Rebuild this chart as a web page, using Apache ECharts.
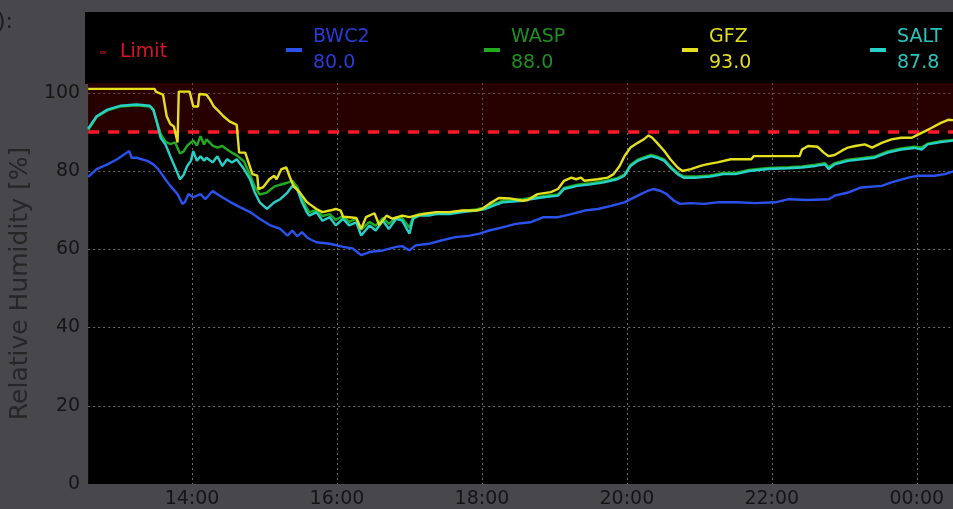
<!DOCTYPE html>
<html>
<head>
<meta charset="utf-8">
<script src="https://cdn.jsdelivr.net/npm/echarts@6/dist/echarts.min.js"></script>
<style>html,body{margin:0;padding:0;background:#48484c;}#c{width:953px;height:509px;}</style>
</head>
<body>
<div id="c"></div>
<script>
// ---- data ----
const xStart = '12:34';
const xEnd = '00:30';
const limitValue = 90;
const yMin = 0;
const yMax = 102.5;
const yInterval = 20;

const bwc2Times = ['12:34','12:41','12:50','12:58','13:04','13:08','13:10','13:14','13:23','13:28','13:32','13:37','13:42','13:48','13:52','13:54','13:57','14:01','14:07','14:11','14:17','14:23','14:32','14:40','14:48','14:56','15:05','15:13','15:19','15:23','15:27','15:31','15:35','15:37','15:43','15:54','16:05','16:13','16:20','16:27','16:38','16:49','16:54','17:00','17:05','17:16','17:27','17:38','17:50','17:58','18:06','18:17','18:28','18:40','18:51','19:03','19:14','19:25','19:36','19:47','19:58','20:09','20:17','20:22','20:28','20:33','20:39','20:44','20:53','21:04','21:15','21:31','21:46','22:03','22:14','22:30','22:47','22:52','23:03','23:14','23:31','23:39','23:53','00:01','00:15','00:23','00:31'];
const bwc2Values = [78.5,80.5,81.7,83,84.3,85.1,83.4,83.4,82.6,81.7,80.5,78.3,76.2,74.1,71.6,72,74.1,73.3,74.1,72.8,74.9,73.7,72,70.7,69.5,67.8,66.1,65.2,63.5,64.8,63.3,64.4,63.1,62.7,61.8,61.4,60.6,60.2,58.5,59.3,59.7,60.6,60.8,59.7,61,61.4,62.3,63.1,63.5,64,64.8,65.6,66.5,66.9,68.2,68.2,69,69.9,70.3,71.1,72,73.7,74.9,75.4,74.9,74.1,72.4,71.6,71.8,71.6,72,72,71.8,72,72.8,72.6,72.8,73.7,74.5,75.8,76.2,77.1,78.3,78.8,78.8,79.2,80];

const saltTimes = ['12:34','12:41','12:50','13:01','13:14','13:25','13:28','13:31','13:34','13:38','13:42','13:46','13:50','13:53','13:56','13:59','14:01','14:04','14:07','14:10','14:12','14:17','14:21','14:25','14:29','14:33','14:37','14:43','14:48','14:52','14:56','15:02','15:08','15:13','15:19','15:23','15:27','15:31','15:35','15:37','15:43','15:48','15:54','15:59','16:05','16:10','16:16','16:20','16:27','16:32','16:38','16:43','16:49','16:54','17:00','17:03','17:08','17:16','17:22','17:33','17:44','17:55','18:03','18:09','18:17','18:34','18:40','18:51','19:03','19:08','19:19','19:30','19:41','19:52','19:58','20:03','20:09','20:14','20:20','20:25','20:31','20:36','20:42','20:47','20:58','21:09','21:20','21:30','21:41','21:57','22:14','22:25','22:36','22:44','22:47','22:52','23:03','23:14','23:25','23:36','23:47','23:58','00:04','00:09','00:20','00:31'];
const saltValues = [90.8,94,95.7,96.7,97,96.7,95.7,92.3,88.5,86.8,83.8,80.9,77.9,79,81.3,82.6,85.1,82.6,83.8,82.6,83.4,82.2,83.8,81.3,83,82.2,83,80.5,77.9,74.5,72,70.3,72,72.8,74.5,76.2,75.4,72,69.5,68.6,69.5,67.3,68.2,66.1,67.8,66.1,66.9,63.5,66.1,64.8,67.3,65.2,67.8,67.3,64,67.8,68.6,68.6,69,69,69.5,69.9,70.3,71.1,72,72.4,72.8,73.3,73.7,75.4,76.2,76.6,77.1,77.9,78.8,81.3,82.6,83.2,83.8,83.4,82.6,80.9,79.2,78.3,78.3,78.6,79.2,79.2,80,80.5,80.7,80.9,81.3,81.7,80.5,81.7,82.6,83,83.4,84.7,85.5,85.9,85.5,86.8,87.4,87.8];

const waspTimes = ['12:34','12:41','12:50','13:01','13:14','13:25','13:28','13:31','13:34','13:38','13:42','13:46','13:50','13:53','13:56','14:01','14:04','14:07','14:10','14:12','14:17','14:21','14:25','14:29','14:33','14:37','14:43','14:48','14:52','14:56','15:02','15:08','15:13','15:19','15:23','15:27','15:31','15:35','15:37','15:43','15:48','15:54','15:59','16:05','16:10','16:16','16:20','16:27','16:32','16:38','16:43','16:49','16:54','17:00','17:03','17:08','17:16','17:22','17:33','17:44','17:55','18:03','18:09','18:17','18:34','18:40','18:51','19:03','19:08','19:19','19:30','19:41','19:52','19:58','20:03','20:09','20:14','20:20','20:25','20:31','20:36','20:42','20:47','20:58','21:09','21:20','21:30','21:41','21:57','22:14','22:25','22:36','22:44','22:47','22:52','23:03','23:14','23:25','23:36','23:47','23:58','00:04','00:09','00:20','00:31'];
const waspValues = [90.5,93.8,95.5,96.5,96.8,96.5,95.5,92.5,89.5,87.5,86.9,87.3,84.5,85,86.5,87.8,86.5,88.9,86.8,88.1,86.5,86,86.4,85.5,84.7,84,82.5,79,76,74,74.5,76,76.5,77,77.5,76,73,70.5,69.5,70,68.5,69,67.5,68.5,67,67.8,65,67,66,68,66.5,68.2,68,65.5,68.3,69,69,69.3,69.4,69.8,70.2,70.7,71.5,72.4,72.8,73.1,73.6,74,75.7,76.5,76.9,77.4,78.2,79.1,81.6,82.9,83.5,84.1,83.7,82.9,81.2,79.5,78.6,78.6,78.9,79.5,79.5,80.3,80.8,81,81.2,81.6,82,81,82,82.9,83.3,83.7,85,85.8,86.2,86,87,87.6,88];

const gfzTimes = ['12:34','13:29','13:30','13:36','13:39','13:42','13:45','13:48','13:49','13:58','14:01','14:05','14:06','14:12','14:15','14:18','14:22','14:26','14:31','14:37','14:39','14:44','14:45','14:50','14:54','14:55','14:59','15:04','15:08','15:10','15:14','15:18','15:21','15:24','15:29','15:35','15:37','15:43','15:48','15:54','15:59','16:03','16:05','16:10','16:16','16:20','16:24','16:31','16:35','16:41','16:46','16:54','17:00','17:05','17:11','17:22','17:33','17:44','17:55','18:00','18:06','18:14','18:23','18:34','18:38','18:46','18:57','19:03','19:08','19:14','19:18','19:22','19:25','19:36','19:44','19:49','19:54','19:58','20:03','20:09','20:14','20:18','20:21','20:25','20:31','20:36','20:42','20:46','20:53','21:01','21:06','21:15','21:26','21:43','21:45','22:23','22:25','22:30','22:38','22:43','22:47','22:52','22:58','23:03','23:09','23:17','23:23','23:31','23:39','23:47','23:56','00:01','00:07','00:12','00:20','00:26','00:31'];
const gfzValues = [101,101,100.3,99.5,94,92,91.4,87.3,100.3,100.3,96.5,96.5,99.7,99.5,98.2,96.5,95.3,94,92.7,91.8,84.7,84.7,83.8,79.2,78.8,75.4,75.9,77.9,78.8,77.9,80.5,80.9,78.4,76.2,74.6,72.1,71.6,70.3,69.5,69.9,70.3,69.9,68.3,68.2,68,65.2,68.2,69.2,66.2,68.6,67.8,68.6,68.2,68.6,69,69.5,69.5,69.9,69.9,70.3,71.6,73.1,73,72.4,72.6,74.1,74.6,75.4,77.5,78.3,77.9,78.3,77.5,77.9,78.3,79.2,81.3,83.8,86,87.2,88.1,89.1,88.5,87.2,85.1,83,80.9,80,80.5,81.3,81.7,82.2,83,83,83.8,83.8,85.5,86.4,86.2,84.7,83.8,84.1,85.2,86,86.4,86.8,86,87.2,88.1,88.5,88.5,89.3,90.2,91,92.3,93.1,93];

const seriesNames = ['BWC2','WASP','GFZ','SALT'];
const legendValues = ['80.0','88.0','93.0','87.8'];
const limitName = 'Limit';
const yAxisTitle = 'Relative Humidity [%]';
const cornerText = '):';

// ---- helpers ----
function toTime(s){
  const p = s.split(':');
  const h = +p[0], m = +p[1];
  const day = h < 12 ? 2 : 1;
  return new Date(2024, 0, day, h, m).getTime();
}
function pairs(ts, vs){ return ts.map((t,i)=>[toTime(t), vs[i]]); }
function pad(n){ return (n<10?'0':'')+n; }

const FONT = 'DejaVu Sans';
const HOUR = 3600000;
const lineColors = {BWC2:'#2b52ec', WASP:'#22aa22', GFZ:'#e4e01e', SALT:'#26d2c8'};
const textColors = {BWC2:'#2a3cd6', WASP:'#1f8f1f', GFZ:'#e0dc20', SALT:'#2bc4bc'};
const legendLeft = {BWC2:281, WASP:479, GFZ:677, SALT:865};

const legends = [{
  left: 95, top: 38, selectedMode:false, icon:'rect', itemWidth:6, itemHeight:3,
  data:[{name: limitName, itemStyle:{color:'#6a0c16'}}],
  textStyle:{color:'#e0102a', fontFamily:FONT, fontSize:19, padding:[0,0,0,9]}
}];
seriesNames.forEach((n,i)=>{
  legends.push({
    left: legendLeft[n], top: 19, selectedMode:false, icon:'rect', itemWidth:16, itemHeight:4,
    data:[n],
    formatter: nm => nm + '\n' + legendValues[i],
    textStyle:{color:textColors[n], fontFamily:FONT, fontSize:19, lineHeight:26, padding:[0,0,0,6]}
  });
});

const dataMap = {
  BWC2: pairs(bwc2Times, bwc2Values),
  WASP: pairs(waspTimes, waspValues),
  SALT: pairs(saltTimes, saltValues),
  GFZ: pairs(gfzTimes, gfzValues)
};

const series = [{
  name: limitName, type:'line', symbol:'none', z:1,
  data:[[toTime(xStart), limitValue],[toTime(xEnd), limitValue]],
  itemStyle:{color:'#ff1a2a'},
  lineStyle:{color:'#ff1a2a', width:3.5, type:[11,9]},
  markArea:{silent:true, itemStyle:{color:'rgba(120,0,0,0.32)'}, data:[[{yAxis:limitValue},{yAxis:yMax}]]}
}];
['BWC2','WASP','SALT','GFZ'].forEach((n,i)=>{
  series.push({
    name:n, type:'line', symbol:'none', z:3+i, animation:false,
    data: dataMap[n],
    itemStyle:{color:lineColors[n]},
    lineStyle:{color:lineColors[n], width:2.4}
  });
});

const chart = echarts.init(document.getElementById('c'), null, {renderer:'canvas'});
chart.setOption({
  animation:false,
  backgroundColor:'#48484c',
  textStyle:{fontFamily:FONT},
  graphic:[
    {type:'rect', left:85, top:12, shape:{width:868, height:72}, style:{fill:'#000'}, z:-5},
    {type:'text', left:-3, top:11, style:{text:cornerText, fill:'#1c1c1c', font:'22px "DejaVu Sans"'}}
  ],
  legend: legends,
  grid:{left:85, right:0, top:83, bottom:22, show:true, backgroundColor:'#000', borderWidth:0},
  xAxis:{
    type:'time', min:toTime(xStart), max:toTime(xEnd),
    splitNumber:5, minInterval:2.2*HOUR, maxInterval:2.8*HOUR,
    axisLine:{show:false}, axisTick:{show:false},
    axisLabel:{color:'#151515', fontSize:19, fontFamily:FONT, margin:6,
      formatter: v => { const d=new Date(v); return pad(d.getHours())+':'+pad(d.getMinutes()); }},
    splitLine:{show:true, showMinLine:false, showMaxLine:false, lineStyle:{color:'#6e6e6e', type:[2,3], width:1}}
  },
  yAxis:{
    type:'value', min:yMin, max:yMax, interval:yInterval,
    name: yAxisTitle, nameLocation:'middle', nameGap:50,
    nameTextStyle:{color:'#262626', fontSize:25, fontFamily:FONT},
    axisLine:{show:false}, axisTick:{show:false},
    axisLabel:{color:'#151515', fontSize:19, fontFamily:FONT, margin:8, showMaxLabel:false},
    splitLine:{show:true, showMinLine:false, showMaxLine:false, lineStyle:{color:'#6e6e6e', type:[2,3], width:1}}
  },
  series: series
});
</script>
</body>
</html>
